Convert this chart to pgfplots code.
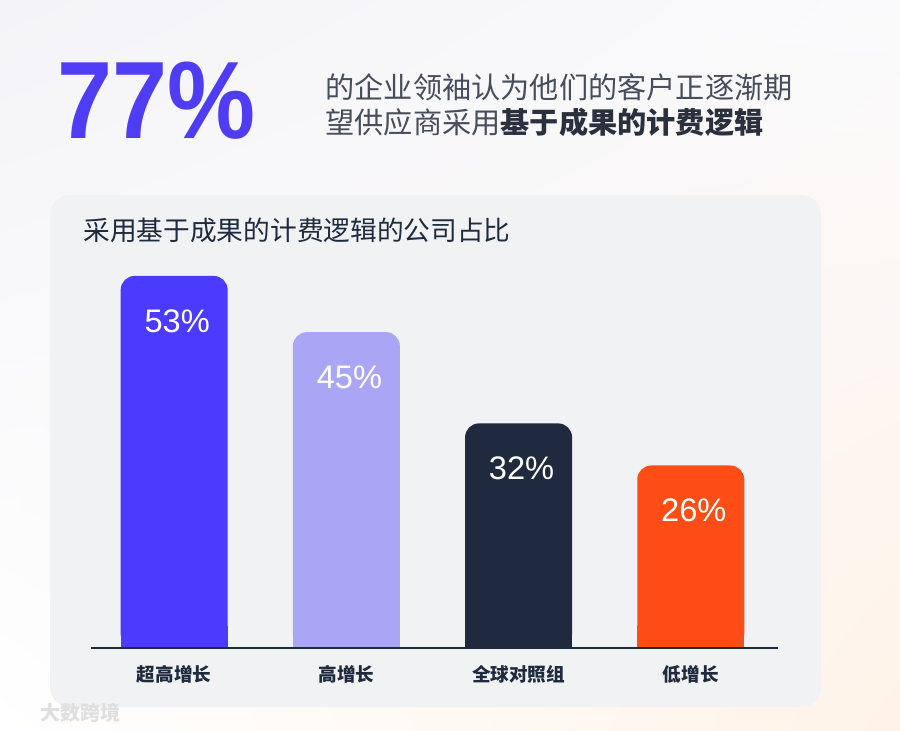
\documentclass[border=0pt]{standalone}
\usepackage{pgfplots}
\pgfplotsset{compat=1.18}
\usetikzlibrary{shadings}
\usepackage{graphicx}
\usepackage{fontspec}
\setmainfont{Liberation Sans}
\newfontfamily\cjk{Noto Sans CJK SC}
\definecolor{bgpanel}{HTML}{F1F2F4}
\definecolor{cA}{HTML}{4B3BFF}
\definecolor{cB}{HTML}{AAA6F6}
\definecolor{cC}{HTML}{1F2A3F}
\definecolor{cD}{HTML}{FF4D15}
\definecolor{navy}{HTML}{1E2A3E}
\definecolor{subgrey}{HTML}{474D5C}
\definecolor{subdark}{HTML}{2A303E}
\definecolor{bignum}{HTML}{4F3DF6}
\definecolor{bgTL}{HTML}{F4F4F8}
\definecolor{bgTR}{HTML}{FAFAFC}
\definecolor{bgBL}{HTML}{FFFFFF}
\definecolor{bgBR}{HTML}{FFF3E8}
\pgfplotsset{barstyle/.style={ybar, bar width=53.5pt, bar shift=0pt, draw=none}}
\begin{document}
\begin{tikzpicture}
\begin{scope}[x=0.5pt,y=-0.5pt]
\useasboundingbox (0,0) rectangle (900,731);
\shade[upper left=bgTL, upper right=bgTR, lower left=bgBL, lower right=bgBR] (0,0) rectangle (900,731);
\fill[bgpanel, rounded corners=10pt] (50,195) rectangle (821,707);
\node[anchor=base west, inner sep=0, text=bignum] at (57,139) {\scalebox{0.9}[1]{\fontsize{55}{55}\selectfont\bfseries 77\%}};
\node[anchor=west, inner sep=0, text=subgrey] at (325,87) {\cjk\fontsize{14.6}{14.6}\selectfont 的企业领袖认为他们的客户正逐渐期};
\node[anchor=west, inner sep=0, text=subgrey] at (325,122) {\cjk\fontsize{14.6}{14.6}\selectfont 望供应商采用{\bfseries\color{subdark}基于成果的计费逻辑}};
\node[anchor=west, inner sep=0, text=navy] at (83,230) {\cjk\fontsize{13.35}{13.35}\selectfont 采用基于成果的计费逻辑的公司占比};
\node[anchor=west, inner sep=0, text=gray!25] at (40,713) {\cjk\bfseries\fontsize{10}{10}\selectfont 大数跨境};
\end{scope}

\begin{axis}[at={(45.5pt,-324pt)}, anchor=south west, x=86.1pt, y=3.51pt,
  xmin=-0.483, xmax=3.503, ymin=0, ymax=56,
  axis line style={draw=none}, ytick=\empty, xtick={0,1,2,3},
  xticklabels={超高增长,高增长,全球对照组,低增长},
  major tick length=0pt,
  xticklabel style={font=\cjk\bfseries\fontsize{9.3}{9.3}\selectfont, text=navy, yshift=-5pt},
  clip=false,
  nodes near coords={\pgfmathprintnumber{\pgfplotspointmeta}\%},
  every node near coord/.append style={anchor=center, yshift=-22.5pt, xshift=1.5pt, text=white, font=\fontsize{16.3}{16.3}\selectfont},
  /pgf/number format/assume math mode=true,
]
\addplot[barstyle, fill=cA, rounded corners=7pt] coordinates {(0,53)};
\addplot[barstyle, fill=cB, rounded corners=7pt] coordinates {(1,45)};
\addplot[barstyle, fill=cC, rounded corners=7pt] coordinates {(2,32)};
\addplot[barstyle, fill=cD, rounded corners=7pt] coordinates {(3,26)};
\end{axis}

\begin{axis}[at={(45.5pt,-324pt)}, anchor=south west, x=86.1pt, y=3.51pt,
  xmin=-0.483, xmax=3.503, ymin=0, ymax=3, hide axis, clip=true]
\addplot[barstyle, fill=cA] coordinates {(0,53)};
\addplot[barstyle, fill=cB] coordinates {(1,45)};
\addplot[barstyle, fill=cC] coordinates {(2,32)};
\addplot[barstyle, fill=cD] coordinates {(3,26)};
\end{axis}

\draw[navy, line width=1.4pt] (45.5pt,-324pt) -- (388.75pt,-324pt);
\end{tikzpicture}
\end{document}
